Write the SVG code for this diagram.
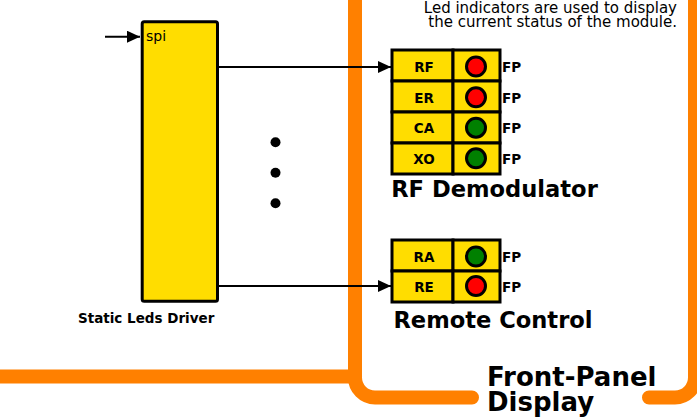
<svg xmlns="http://www.w3.org/2000/svg" width="697" height="419" viewBox="0 0 697 419">
<style>
.t{font-family:"DejaVu Sans",Verdana,sans-serif;fill:#000}
.b{font-weight:bold}
.cell{fill:#ffdd00;stroke:#000;stroke-width:3}
.red{fill:#ff0000;stroke:#000;stroke-width:3}
.grn{fill:#008000;stroke:#000;stroke-width:3}
.or{fill:none;stroke:#ff8000;stroke-width:14;stroke-linecap:round}
.con{stroke:#000;stroke-width:2;fill:none}
</style>
<defs>
<marker id="ah" markerWidth="13" markerHeight="12" refX="13" refY="6" orient="auto" markerUnits="userSpaceOnUse">
<path d="M0,0 L13,6 L0,12 Z" fill="#000"/>
</marker>
</defs>
<g id="frame">
<path class="or" d="M0,376.5 H355" stroke-linecap="butt"/>
<path class="or" d="M472,397.5 H375 A20,20 0 0 1 355,377.5 V-30"/>
<path class="or" d="M649,397.5 H675 A20,20 0 0 0 695,377.5 V-30"/>
<text class="t b" x="487" y="386" font-size="26">Front-Panel</text>
<text class="t b" x="487" y="411" font-size="26">Display</text>
</g>
<g id="note">
<text class="t" x="677" y="13" font-size="15" text-anchor="end">Led indicators are used to display</text>
<text class="t" x="677" y="27" font-size="15" text-anchor="end">the current status of the module.</text>
</g>
<g id="driver">
<rect x="142.2" y="21.7" width="75.3" height="279.5" rx="2" class="cell"/>
<text class="t" x="146" y="41" font-size="14">spi</text>
<text class="t b" x="78" y="323" font-size="13.5">Static Leds Driver</text>
</g>
<g id="dots">
<circle cx="275.5" cy="142.3" r="5"/>
<circle cx="275.5" cy="172.7" r="5"/>
<circle cx="275.5" cy="203.3" r="5"/>
</g>
<g id="rf-demodulator">
<rect class="cell" x="392" y="50" width="61" height="31"/>
<rect class="cell" x="453" y="50" width="47" height="31"/>
<rect class="cell" x="392" y="81" width="61" height="31"/>
<rect class="cell" x="453" y="81" width="47" height="31"/>
<rect class="cell" x="392" y="112" width="61" height="31"/>
<rect class="cell" x="453" y="112" width="47" height="31"/>
<rect class="cell" x="392" y="143" width="61" height="31"/>
<rect class="cell" x="453" y="143" width="47" height="31"/>
<circle class="red" cx="476" cy="66.5" r="9.5"/>
<circle class="red" cx="476" cy="97.3" r="9.5"/>
<circle class="grn" cx="476" cy="127.7" r="9.5"/>
<circle class="grn" cx="476" cy="158.3" r="9.5"/>
<g class="t b" font-size="13.5" text-anchor="middle">
<text x="424" y="71.5">RF</text>
<text x="424" y="102.5">ER</text>
<text x="424" y="133">CA</text>
<text x="424" y="163.5">XO</text>
</g>
<g class="t b" font-size="13.5">
<text x="502" y="71.5">FP</text>
<text x="502" y="102.5">FP</text>
<text x="502" y="133">FP</text>
<text x="502" y="163.5">FP</text>
</g>
<text class="t b" x="494.5" y="197" font-size="22.6" text-anchor="middle">RF Demodulator</text>
</g>
<g id="remote-control">
<rect class="cell" x="392" y="240" width="61" height="31"/>
<rect class="cell" x="453" y="240" width="47" height="31"/>
<rect class="cell" x="392" y="271" width="61" height="31"/>
<rect class="cell" x="453" y="271" width="47" height="31"/>
<circle class="grn" cx="476" cy="256.5" r="9.5"/>
<circle class="red" cx="476" cy="286" r="9.5"/>
<g class="t b" font-size="13.5" text-anchor="middle">
<text x="424" y="261.5">RA</text>
<text x="424" y="291.5">RE</text>
</g>
<g class="t b" font-size="13.5">
<text x="502" y="261.5">FP</text>
<text x="502" y="291.5">FP</text>
</g>
<text class="t b" x="493" y="328" font-size="22.6" text-anchor="middle">Remote Control</text>
</g>
<g id="connectors">
<path class="con" d="M105,36.7 H140" marker-end="url(#ah)"/>
<path class="con" d="M219,67 H391" marker-end="url(#ah)"/>
<path class="con" d="M219,286 H391" marker-end="url(#ah)"/>
</g>
</svg>
